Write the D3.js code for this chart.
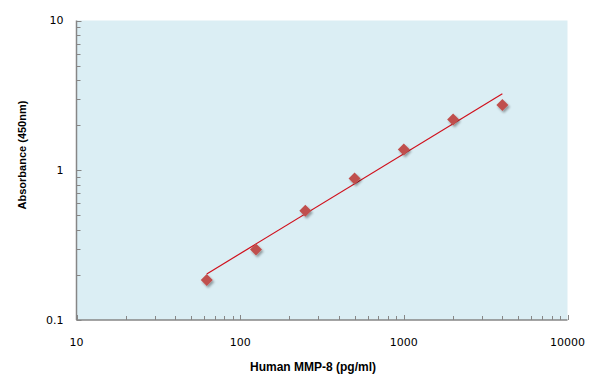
<!DOCTYPE html>
<html>
<head>
<meta charset="utf-8">
<script src="https://cdn.jsdelivr.net/npm/d3@7"></script>
<style>
  body { margin: 0; background: #fff; }
  text { font-family: "DejaVu Sans", Verdana, sans-serif; }
</style>
</head>
<body>
<svg></svg>
<script>
const concentration = [62.5, 125, 250, 500, 1000, 2000, 4000]
const absorbance = [0.185, 0.296, 0.536, 0.881, 1.374, 2.18, 2.73]

// power trendline end points (straight on log-log)
const trendX = [62.5, 4000]
const trendY = [0.203, 3.24]

const xTicks = [10, 100, 1000, 10000]
const yTicks = [0.1, 1, 10]

const width = 596
const height = 390
const margin = { left: 76.5, right: 28.5, top: 20.5, bottom: 70 }

const svg = d3.select("svg")
      .attr("width", width)
      .attr("height", height)

const defs = svg.append("defs")
const shadow = defs.append("filter")
      .attr("id", "shadow")
      .attr("x", "-50%").attr("y", "-50%")
      .attr("width", "200%").attr("height", "200%")
shadow.append("feDropShadow")
      .attr("dx", 1.5)
      .attr("dy", 2)
      .attr("stdDeviation", 1.3)
      .attr("flood-color", "#000")
      .attr("flood-opacity", 0.35)

const x = d3.scaleLog()
      .domain([10, 10000])
      .range([margin.left, width - margin.right])

const y = d3.scaleLog()
      .domain([0.1, 10])
      .range([height - margin.bottom, margin.top])

// plot background
svg.append("rect")
      .attr("x", x(10))
      .attr("y", y(10))
      .attr("width", x(10000) - x(10))
      .attr("height", y(0.1) - y(10))
      .attr("fill", "#dbeef4")

// minor + major ticks, drawn inside
const xMinor = x.ticks().filter(v => !xTicks.includes(v))
const yMinor = y.ticks().filter(v => !yTicks.includes(v))

const xAxis = svg.append("g")
      .attr("transform", `translate(0,${y(0.1)})`)
xAxis.selectAll("line.minor")
      .data(xMinor)
      .join("line")
      .attr("x1", d => Math.round(x(d)) + 0.5)
      .attr("x2", d => Math.round(x(d)) + 0.5)
      .attr("y1", 0)
      .attr("y2", -4)
      .attr("stroke", "#868686")
xAxis.selectAll("line.major")
      .data(xTicks)
      .join("line")
      .attr("x1", d => Math.round(x(d)) + 0.5)
      .attr("x2", d => Math.round(x(d)) + 0.5)
      .attr("y1", 0)
      .attr("y2", -5)
      .attr("stroke", "#868686")
xAxis.append("line")
      .attr("x1", x(10))
      .attr("x2", x(10000))
      .attr("stroke", "#868686")
      .attr("stroke-width", 1.5)
xAxis.selectAll("text")
      .data(xTicks)
      .join("text")
      .attr("x", d => x(d))
      .attr("y", 26)
      .attr("text-anchor", "middle")
      .attr("font-size", 11)
      .attr("fill", "#000")
      .text(d => d)

const yAxis = svg.append("g")
      .attr("transform", `translate(${x(10)},0)`)
yAxis.selectAll("line.minor")
      .data(yMinor)
      .join("line")
      .attr("y1", d => Math.round(y(d)) + 0.5)
      .attr("y2", d => Math.round(y(d)) + 0.5)
      .attr("x1", 0)
      .attr("x2", 4)
      .attr("stroke", "#868686")
yAxis.selectAll("line.major")
      .data(yTicks)
      .join("line")
      .attr("y1", d => Math.round(y(d)) + 0.5)
      .attr("y2", d => Math.round(y(d)) + 0.5)
      .attr("x1", 0)
      .attr("x2", 5)
      .attr("stroke", "#868686")
yAxis.append("line")
      .attr("y1", y(10))
      .attr("y2", y(0.1))
      .attr("stroke", "#868686")
      .attr("stroke-width", 1.5)
yAxis.selectAll("text")
      .data(yTicks)
      .join("text")
      .attr("x", -13)
      .attr("y", d => y(d))
      .attr("dy", "0.35em")
      .attr("text-anchor", "end")
      .attr("font-size", 11)
      .attr("fill", "#000")
      .text(d => d)

// trendline
svg.append("path")
      .datum(d3.zip(trendX, trendY))
      .attr("fill", "none")
      .attr("stroke", "#d0101c")
      .attr("stroke-width", 1.2)
      .attr("d", d3.line().x(d => x(d[0])).y(d => y(d[1])))

// data points
svg.append("g")
      .attr("filter", "url(#shadow)")
      .selectAll("path")
      .data(d3.zip(concentration, absorbance))
      .join("path")
      .attr("d", d3.symbol(d3.symbolSquare, 72))
      .attr("transform", d => `translate(${x(d[0])},${y(d[1])}) rotate(45)`)
      .attr("fill", "#c0504d")

// axis titles
svg.append("text")
      .attr("x", 313)
      .attr("y", 371)
      .attr("text-anchor", "middle")
      .attr("font-size", 12)
      .attr("font-weight", "bold")
      .style("font-family", "'Liberation Sans', Arial, sans-serif")
      .attr("fill", "#000")
      .text("Human MMP-8 (pg/ml)")

svg.append("text")
      .attr("transform", "translate(26,155) rotate(-90)")
      .attr("text-anchor", "middle")
      .attr("font-size", 11)
      .attr("font-weight", "bold")
      .style("font-family", "'Liberation Sans', Arial, sans-serif")
      .attr("fill", "#000")
      .text("Absorbance (450nm)")
</script>
</body>
</html>
